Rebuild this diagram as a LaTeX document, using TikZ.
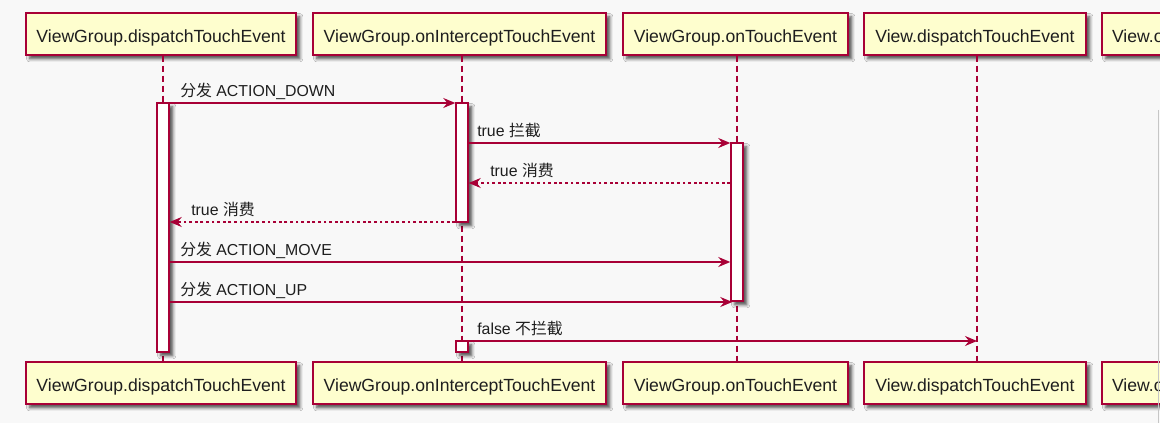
\documentclass[tikz,border=0pt]{standalone}
\usepackage{fontspec}
\setmainfont{Liberation Sans}
\newfontfamily\cjk{Noto Sans CJK SC}
\usetikzlibrary{arrows.meta,shadows.blur}
\definecolor{pborder}{HTML}{A80036}
\definecolor{pfill}{HTML}{FEFECE}
\definecolor{bgc}{HTML}{F8F8F8}
\definecolor{txt}{HTML}{1E1E1E}
\begin{document}
\begin{tikzpicture}[x=0.75pt,y=-0.75pt,
  shadowed/.style={blur shadow={shadow xshift=2.8pt, shadow yshift=-2.8pt, shadow blur radius=2.4pt, shadow opacity=70}},
  part/.style={draw=pborder, line width=1.1pt, fill=pfill, minimum height=31.5pt, inner sep=0pt,
    text height=13.5pt, text depth=0pt,
    font=\fontsize{13.2}{15}\selectfont, text=txt, shadowed},
  actbar/.style={draw=pborder, line width=1.1pt, fill=white, minimum width=9pt, inner sep=0pt, shadowed},
  life/.style={draw=pborder, line width=0.8pt, dash pattern=on 5pt off 2.5pt},
  msg/.style={draw=pborder, line width=0.85pt, -{Stealth[length=9pt, width=7.5pt, inset=3pt]}},
  ret/.style={msg, dash pattern=on 2.1pt off 2.1pt},
  lbl/.style={anchor=base west, inner sep=0pt, font=\fontsize{11.9}{14}\selectfont, text=txt}
]
\fill[bgc] (0,0) rectangle (1160,423);
\useasboundingbox (0,0) rectangle (1160,423);

% lifeline x positions
\coordinate (l1) at (163,0);
\coordinate (l2) at (462,0);
\coordinate (l3) at (737,0);
\coordinate (l4) at (977,0);

% participants top
\node[part, minimum width=202.5pt] (p1t) at (161,34) {ViewGroup.dispatchTouchEvent};
\node[part, minimum width=219.75pt] (p2t) at (459.5,34) {ViewGroup.onInterceptTouchEvent};
\node[part, minimum width=168.75pt] (p3t) at (735.5,34) {ViewGroup.onTouchEvent};
\node[part, minimum width=166.5pt] (p4t) at (975,34) {View.dispatchTouchEvent};
\node[part, minimum width=165pt, text width=150pt, align=left] (p5t) at (1212,34) {View.onTouchEvent};
% participants bottom
\node[part, minimum width=202.5pt] (p1b) at (161,383) {ViewGroup.dispatchTouchEvent};
\node[part, minimum width=219.75pt] (p2b) at (459.5,383) {ViewGroup.onInterceptTouchEvent};
\node[part, minimum width=168.75pt] (p3b) at (735.5,383) {ViewGroup.onTouchEvent};
\node[part, minimum width=166.5pt] (p4b) at (975,383) {View.dispatchTouchEvent};
\node[part, minimum width=165pt, text width=150pt, align=left] (p5b) at (1212,383) {View.onTouchEvent};

% lifelines
\draw[life] (p1t.south -| l1) -- (p1b.north -| l1);
\draw[life] (p2t.south -| l2) -- (p2b.north -| l2);
\draw[life] (p3t.south -| l3) -- (p3b.north -| l3);
\draw[life] (p4t.south -| l4) -- (p4b.north -| l4);

% activation bars
\node[actbar, minimum height=186.75pt] (a1) at (163,227.5) {};
\node[actbar, minimum height=89.25pt] (a2) at (462,162.5) {};
\node[actbar, minimum height=118.5pt] (a3) at (737,222) {};
\node[actbar, minimum height=8.25pt] (a4) at (462,346.5) {};

% messages
\draw[msg] (a1.east |- 0,103) -- (a2.west |- 0,103);
\node[lbl] (t1) at (180,97) {{\cjk 分发} ACTION\_DOWN};

\draw[msg] (a2.east |- 0,143) -- (a3.west |- 0,143);
\node[lbl] (t2) at (477,137) {true {\cjk 拦截}};

\draw[ret] (a3.west |- 0,183) -- (a2.east |- 0,183);
\node[lbl] (t3) at (490,177) {true {\cjk 消费}};

\draw[ret] (a2.west |- 0,222) -- (a1.east |- 0,222);
\node[lbl] (t4) at (191,216) {true {\cjk 消费}};

\draw[msg] (a1.east |- 0,262) -- (a3.west |- 0,262);
\node[lbl] (t5) at (180,256) {{\cjk 分发} ACTION\_MOVE};

\draw[msg] (a1.east |- 0,302) -- ([xshift=1.5pt]a3.west |- 0,302);
\node[lbl] (t6) at (180,296) {{\cjk 分发} ACTION\_UP};

\draw[msg] (a4.east |- 0,341) -- (l4 |- 0,341);
\node[lbl] (t7) at (477,335) {false {\cjk 不拦截}};

% right edge line of the screenshot
\draw[gray!45, line width=0.8pt] (1158.5,110) -- (1158.5,423);
\end{tikzpicture}
\end{document}
